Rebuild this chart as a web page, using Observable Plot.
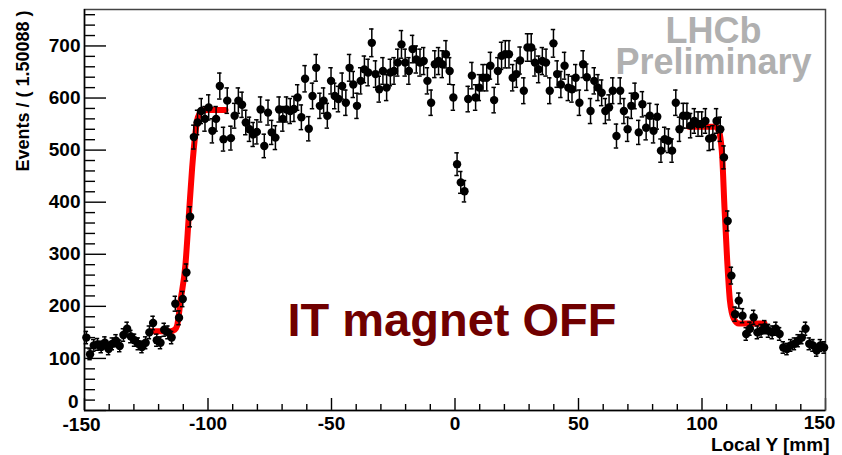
<!DOCTYPE html>
<html>
<head>
<meta charset="utf-8">
<script src="https://cdn.jsdelivr.net/npm/d3@7"></script>
<script src="https://cdn.jsdelivr.net/npm/@observablehq/plot@0.6"></script>
<style>
  html, body { margin: 0; padding: 0; background: #fff; }
  #chart svg { display: block; }
</style>
</head>
<body>
<div id="chart"></div>
<script>
// Histogram binning (from the axis title: Events / ( 1.50088 ))
const binStart = -150;
const binWidth = 1.50088;

// Events per bin (200 bins, left to right)
const events = [
  140, 108, 125, 127, 122, 130, 118, 128, 134, 124,
  145, 157, 142, 135, 128, 122, 130, 150, 168, 135,
  130, 155, 150, 140, 205, 178, 214, 265, 372, 525,
  553, 575, 560, 582, 537, 560, 623, 521, 595, 523,
  566, 595, 587, 553, 540, 530, 535, 578, 508, 572,
  534, 524, 578, 560, 578, 575, 579, 601, 563, 637,
  541, 604, 658, 585, 595, 566, 633, 604, 598, 623,
  591, 658, 626, 585, 633, 655, 649, 706, 646, 617,
  652, 620, 649, 652, 668, 703, 668, 652, 694, 674,
  668, 671, 633, 591, 665, 671, 665, 684, 652, 601,
  473, 438, 421, 598, 643, 601, 620, 639, 639, 662,
  596, 652, 681, 684, 684, 639, 646, 672, 614, 697,
  697, 668, 655, 671, 668, 614, 705, 646, 626, 662,
  620, 617, 639, 591, 665, 640, 575, 633, 620, 610,
  575, 582, 614, 527, 614, 575, 540, 585, 604, 534,
  588, 543, 566, 537, 564, 499, 521, 518, 499, 591,
  540, 566, 566, 547, 556, 550, 550, 556, 522, 524,
  556, 540, 486, 364, 259, 185, 211, 182, 147, 157,
  179, 150, 153, 160, 153, 150, 157, 147, 121, 118,
  125, 128, 134, 140, 157, 128, 125, 115, 125, 121
];

// Fitted edge curves (red)
const fitLeftX  = [-122.9, -115.2, -113.5, -112.5, -111.1, -109.1, -107.8, -106.4, -105.3, -104.1, -102.3, -100.3, -92.9];
const fitLeftY  = [152, 152, 155, 163, 211, 282, 371, 467, 524, 563, 575, 577, 577];
const fitRightX = [94.7, 105.5, 106.5, 107.2, 108.2, 109.1, 110.2, 111.3, 112.9, 114.9, 125.3];
const fitRightY = [545, 545, 540, 531, 486, 390, 288, 211, 176, 167, 167];

// Axis ticks
const xMajorTicks = [-150, -100, -50, 0, 50, 100, 150];
const yMajorTicks = [0, 100, 200, 300, 400, 500, 600, 700];
const xMinorStep = 10;
const yMinorStep = 20;

const yTitle = "Events / ( 1.50088 )";
const xTitle = "Local Y [mm]";
const label1 = "LHCb";
const label2 = "Preliminary";
const note = "IT magnet OFF";

// Build tables
const data = events.map((v, i) => ({x: binStart + binWidth * (i + 0.5), y: v, e: Math.sqrt(v)}));
const fitLeft = fitLeftX.map((x, i) => ({x, y: fitLeftY[i]}));
const fitRight = fitRightX.map((x, i) => ({x, y: fitRightY[i]}));
const xMinor = d3.range(-150, 150.001, xMinorStep).filter(v => !xMajorTicks.includes(v));
const yMinor = d3.range(0, 770, yMinorStep).filter(v => !yMajorTicks.includes(v));

const W = 842, H = 455;
const mL = 84, mR = 17, mT = 9, mB = 45;
const pw = W - mL - mR, ph = H - mT - mB;
const font = "'Liberation Sans', Arial, Helvetica, sans-serif";
const lab = {tickSize: 0, tickFormat: d => String(d), fontSize: 19, fontWeight: "bold", label: null};

const chart = Plot.plot({
  width: W, height: H,
  marginLeft: mL, marginRight: mR, marginTop: mT, marginBottom: mB,
  style: {fontFamily: font, fontWeight: "bold", background: "#fff", overflow: "visible"},
  x: {domain: [-150, 150], axis: null},
  y: {domain: [0, 770], axis: null},
  marks: [
    // tick labels
    Plot.axisY({...lab, ticks: yMajorTicks.filter(v => v !== 0), tickPadding: 4}),
    Plot.axisY({...lab, ticks: [0], tickPadding: 6, dy: -9}),
    Plot.axisX({...lab, ticks: xMajorTicks.slice(1, -1), tickPadding: 6}),
    Plot.axisX({...lab, ticks: [xMajorTicks[0]], tickPadding: 7, dx: -3}),
    Plot.axisX({...lab, ticks: [xMajorTicks[xMajorTicks.length - 1]], tickPadding: 5, dx: -6}),
    // inward ticks
    Plot.tickY(yMajorTicks, {y: d => d, insetRight: pw - 22, stroke: "#000", strokeWidth: 1.4}),
    Plot.tickY(yMinor, {y: d => d, insetRight: pw - 11, stroke: "#000", strokeWidth: 1.4}),
    Plot.tickX(xMajorTicks, {x: d => d, insetTop: ph - 12, stroke: "#000", strokeWidth: 1.4}),
    Plot.tickX(xMinor, {x: d => d, insetTop: ph - 6, stroke: "#000", strokeWidth: 1.4}),
    // frame
    Plot.frame({stroke: "#444", strokeWidth: 1.5}),
    Plot.ruleX([-150], {stroke: "#000", strokeWidth: 1.5}),
    Plot.ruleY([0], {stroke: "#000", strokeWidth: 1.5}),
    // fit curves
    Plot.line(fitLeft, {x: "x", y: "y", stroke: "#ff0000", strokeWidth: 6, curve: "monotone-x"}),
    Plot.line(fitRight, {x: "x", y: "y", stroke: "#ff0000", strokeWidth: 6, curve: "monotone-x"}),
    // error bars
    Plot.ruleX(data, {x: "x", y1: d => d.y - d.e, y2: d => d.y + d.e, stroke: "#000", strokeWidth: 1.5}),
    Plot.ruleY(data, {y: d => d.y + d.e, x1: d => d.x - 0.9, x2: d => d.x + 0.9, stroke: "#000", strokeWidth: 1.5}),
    Plot.ruleY(data, {y: d => d.y - d.e, x1: d => d.x - 0.9, x2: d => d.x + 0.9, stroke: "#000", strokeWidth: 1.5}),
    // points
    Plot.dot(data, {x: "x", y: "y", r: 4.2, fill: "#000", stroke: null}),
    // annotations
    Plot.text([note], {frameAnchor: "top-left", dx: 203, dy: 326, lineAnchor: "bottom", textAnchor: "start", fontSize: 47, fontWeight: "bold", fill: "#700000"}),
    Plot.text([label1 + "\n" + label2], {frameAnchor: "top-left", dx: 629, dy: 64, lineAnchor: "bottom", lineHeight: 0.86, textAnchor: "middle", fontSize: 36, fontWeight: "bold", fill: "#b0b0b0"}),
    // axis titles
    Plot.text([yTitle], {frameAnchor: "top-left", rotate: -90, textAnchor: "end", lineAnchor: "middle", dx: -61, dy: 1, fontSize: 18, fontWeight: "bold", fill: "#000"}),
    Plot.text([xTitle], {frameAnchor: "bottom-right", textAnchor: "end", lineAnchor: "bottom", dx: 4, dy: 40, fontSize: 19, fontWeight: "bold", fill: "#000"})
  ]
});
document.getElementById("chart").appendChild(chart);
</script>
</body>
</html>
